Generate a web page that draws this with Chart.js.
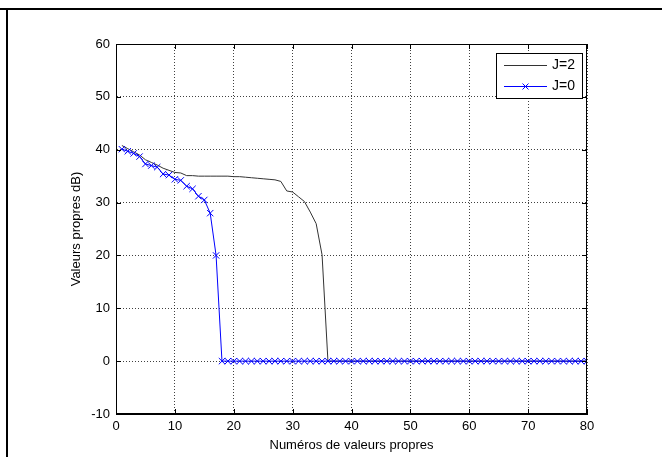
<!DOCTYPE html>
<html>
<head>
<meta charset="utf-8">
<script src="https://cdn.jsdelivr.net/npm/chart.js@4/dist/chart.umd.min.js"></script>
<style>
  body { margin: 0; background: #fff; }
  #wrap { position: relative; width: 662px; height: 457px; overflow: hidden; }
  .frame-top { position: absolute; left: 0; top: 8px; width: 662px; height: 2px; background: #000; }
  .frame-left { position: absolute; left: 6px; top: 8px; width: 2px; height: 449px; background: #000; }
</style>
</head>
<body>
<div id="wrap">
  <canvas id="chart" width="662" height="457"></canvas>
  <div class="frame-top"></div>
  <div class="frame-left"></div>
</div>
<script>
// eigenvalue index
const idx = [1, 2, 3, 4, 5, 6, 7, 8, 9, 10, 11, 12, 13, 14, 15, 16, 17, 18, 19, 20,
  21, 22, 23, 24, 25, 26, 27, 28, 29, 30, 31, 32, 33, 34, 35, 36, 37, 38, 39, 40,
  41, 42, 43, 44, 45, 46, 47, 48, 49, 50, 51, 52, 53, 54, 55, 56, 57, 58, 59, 60,
  61, 62, 63, 64, 65, 66, 67, 68, 69, 70, 71, 72, 73, 74, 75, 76, 77, 78, 79, 80];

// J=2 (black line)
const valJ2 = [40.8, 40.2, 39.6, 39.0, 38.1, 37.6, 37.1, 36.5, 36.1, 35.7,
  35.6, 35.1, 35.1, 35.0, 35.0, 35.0, 35.0, 35.0, 35.0, 34.9,
  34.9, 34.8, 34.7, 34.6, 34.5, 34.4, 34.3, 34.0, 32.2, 32.0,
  31.1, 30.2, 28.2, 26.0, 20.1, 0, 0, 0, 0, 0,
  0, 0, 0, 0, 0, 0, 0, 0, 0, 0,
  0, 0, 0, 0, 0, 0, 0, 0, 0, 0,
  0, 0, 0, 0, 0, 0, 0, 0, 0, 0,
  0, 0, 0, 0, 0, 0, 0, 0, 0, 0];

// J=0 (blue, x markers)
const valJ0 = [40.1, 39.7, 39.3, 38.7, 37.3, 37.0, 36.7, 35.4, 35.2, 34.4,
  34.2, 33.1, 32.6, 31.2, 30.5, 28.0, 20.0, 0, 0, 0,
  0, 0, 0, 0, 0, 0, 0, 0, 0, 0,
  0, 0, 0, 0, 0, 0, 0, 0, 0, 0,
  0, 0, 0, 0, 0, 0, 0, 0, 0, 0,
  0, 0, 0, 0, 0, 0, 0, 0, 0, 0,
  0, 0, 0, 0, 0, 0, 0, 0, 0, 0,
  0, 0, 0, 0, 0, 0, 0, 0, 0, 0];

const xTitle = 'Numéros de valeurs propres';
const yTitle = 'Valeurs propres dB)';

const FONT = "'Liberation Sans', Arial, sans-serif";

const toPts = (vals) => vals.map((v, i) => ({ x: idx[i], y: v }));

// matlab-ish box, inward ticks and legend
const boxPlugin = {
    id: 'box',
    afterDraw(chart) {
        const { ctx, chartArea: a, scales: { x, y } } = chart;
        ctx.save();
        ctx.strokeStyle = '#000';
        ctx.lineWidth = 1;
        ctx.strokeRect(a.left + 0.5, a.top + 0.5, a.right - a.left - 1, a.bottom - a.top - 1);

        ctx.beginPath();
        x.ticks.forEach(t => {
            const px = Math.round(x.getPixelForValue(t.value)) + 0.5;
            ctx.moveTo(px, a.bottom); ctx.lineTo(px, a.bottom - 5);
            ctx.moveTo(px, a.top); ctx.lineTo(px, a.top + 5);
        });
        y.ticks.forEach(t => {
            const py = Math.round(y.getPixelForValue(t.value)) + 0.5;
            ctx.moveTo(a.left, py); ctx.lineTo(a.left + 5, py);
            ctx.moveTo(a.right, py); ctx.lineTo(a.right - 5, py);
        });
        ctx.stroke();

        // legend
        const lg = { left: 496, top: 53, w: 86, h: 45 };
        ctx.fillStyle = '#fff';
        ctx.fillRect(lg.left, lg.top, lg.w, lg.h);
        ctx.strokeRect(lg.left + 0.5, lg.top + 0.5, lg.w, lg.h);
        ctx.font = '14px ' + FONT;
        ctx.textBaseline = 'middle';
        chart.data.datasets.forEach((ds, i) => {
            const yy = Math.round(lg.top + 11.5 + i * 21.5) + 0.5;
            ctx.strokeStyle = ds.borderColor;
            ctx.beginPath();
            ctx.moveTo(lg.left + 8, yy);
            ctx.lineTo(lg.left + 51, yy);
            ctx.stroke();
            if (ds.pointRadius > 0) {
                const cx = lg.left + 29.5, r = 3;
                ctx.beginPath();
                ctx.moveTo(cx - r, yy - r); ctx.lineTo(cx + r, yy + r);
                ctx.moveTo(cx - r, yy + r); ctx.lineTo(cx + r, yy - r);
                ctx.stroke();
            }
            ctx.fillStyle = '#000';
            ctx.fillText(ds.label, lg.left + 56, yy);
        });
        ctx.restore();
    }
};

const gridOpts = {
    color: 'rgba(0,0,0,0.75)',
    lineWidth: 1,
    drawTicks: false
};

new Chart(document.getElementById('chart'), {
    type: 'line',
    data: {
        datasets: [
            {
                label: 'J=2',
                data: toPts(valJ2),
                borderColor: '#333333',
                borderWidth: 1,
                pointRadius: 0,
                order: 1
            },
            {
                label: 'J=0',
                data: toPts(valJ0),
                borderColor: '#0000ff',
                borderWidth: 1,
                pointStyle: 'crossRot',
                pointRadius: 4.5,
                pointBorderWidth: 1,
                order: 0
            }
        ]
    },
    options: {
        responsive: false,
        animation: false,
        layout: { padding: { left: 0, top: 44, right: 75, bottom: 0 } },
        plugins: { legend: { display: false }, tooltip: { enabled: false } },
        scales: {
            x: {
                type: 'linear',
                min: 0, max: 80,
                grid: gridOpts,
                border: { display: true, color: '#000', dash: [1, 2] },
                ticks: { stepSize: 10, padding: 5, color: '#000', font: { family: FONT, size: 13 }, maxRotation: 0 },
                title: { display: true, text: xTitle, color: '#000', font: { family: FONT, size: 13 }, padding: { top: 0, bottom: 4 } },
                afterFit: (s) => { s.height = 43; }
            },
            y: {
                type: 'linear',
                min: -10, max: 60,
                grid: gridOpts,
                border: { display: true, color: '#000', dash: [1, 2] },
                ticks: { stepSize: 10, padding: 6, color: '#000', font: { family: FONT, size: 13 } },
                title: { display: true, text: yTitle, color: '#000', font: { family: FONT, size: 13 }, padding: { top: 69, bottom: 0 } },
                afterFit: (s) => { s.width = 116; }
            }
        }
    },
    plugins: [boxPlugin]
});
</script>
</body>
</html>
